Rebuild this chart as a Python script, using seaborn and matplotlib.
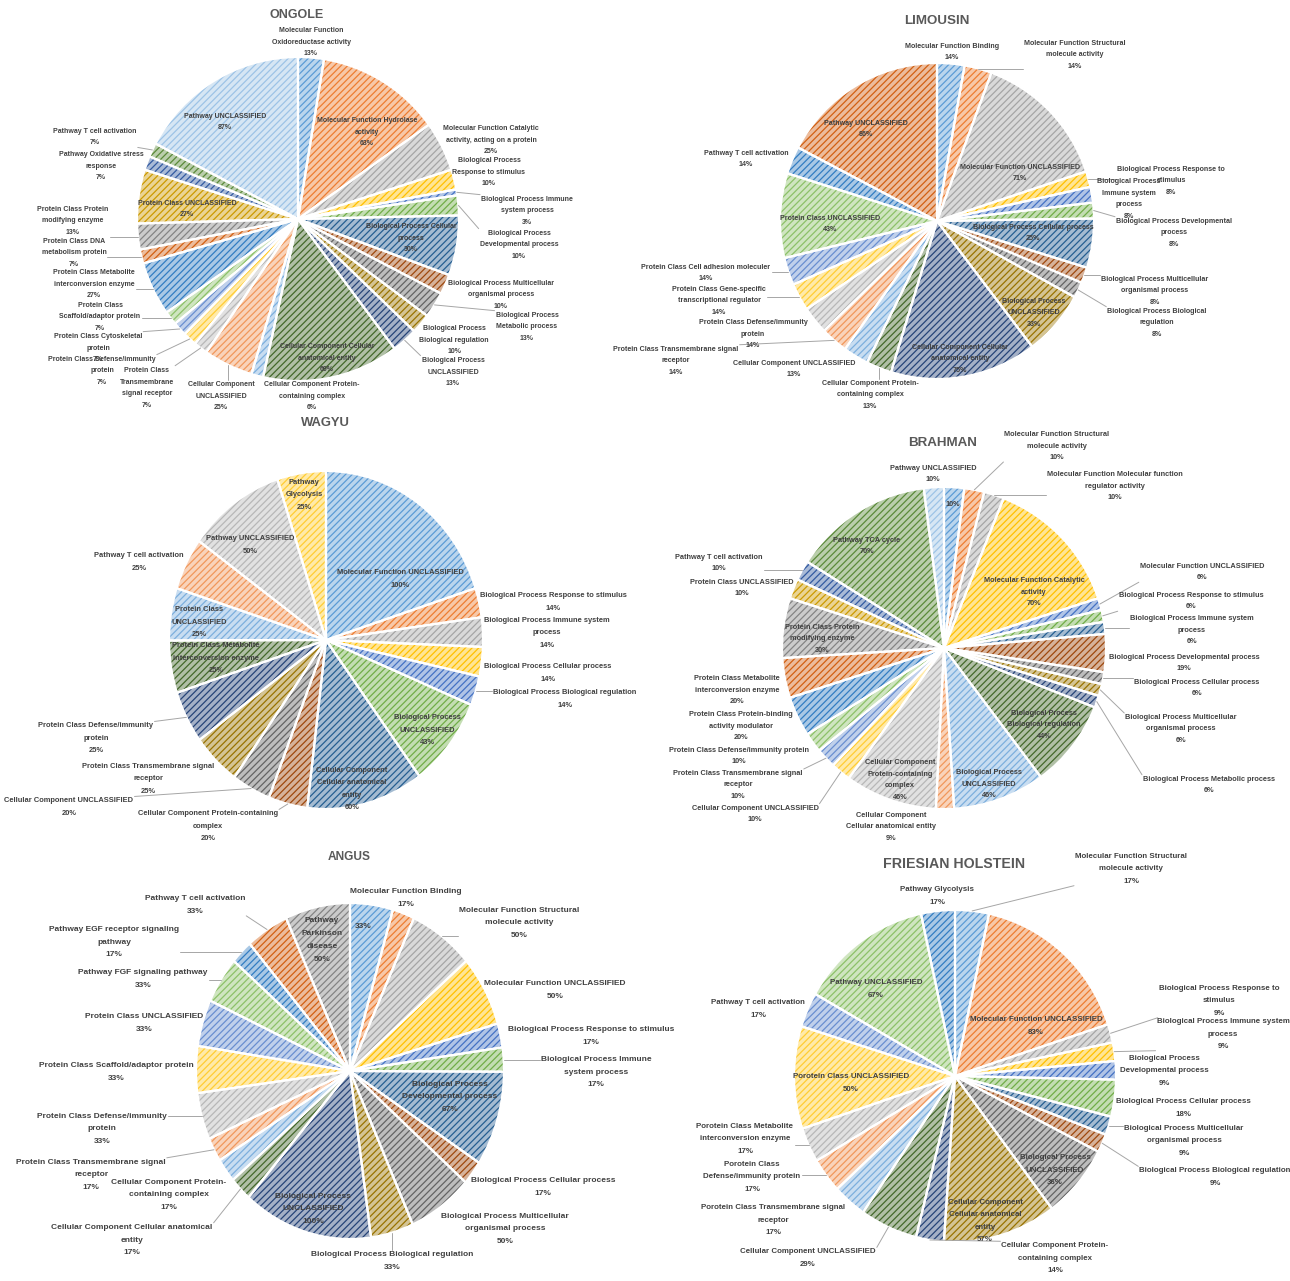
import colorsys

import matplotlib
matplotlib.use("Agg")
import matplotlib.pyplot as plt
import numpy as np
import pandas as pd
import seaborn as sns
from matplotlib.colors import to_rgb

# ---------------------------------------------------------------- data
ongole_names = [
    "Molecular Function\nOxidoreductase activity",
    "Molecular Function Hydrolase\nactivity",
    "Molecular Function Catalytic\nactivity, acting on a protein",
    "Biological Process\nResponse to stimulus",
    "Biological Process Immune\nsystem process",
    "Biological Process\nDevelopmental process",
    "Biological Process Cellular\nprocess",
    "Biological Process Multicellular\norganismal process",
    "Biological Process\nMetabolic process",
    "Biological Process\nBiological regulation",
    "Biological Process\nUNCLASSIFIED",
    "Cellular Component Cellular\nanatomical entity",
    "Cellular Component Protein-\ncontaining complex",
    "Cellular Component\nUNCLASSIFIED",
    "Protein Class\nTransmembrane\nsignal receptor",
    "Protein Class Defense/immunity\nprotein",
    "Protein Class Cytoskeletal\nprotein",
    "Protein Class\nScaffold/adaptor protein",
    "Protein Class Metabolite\ninterconversion enzyme",
    "Protein Class DNA\nmetabolism protein",
    "Protein Class Protein\nmodifying enzyme",
    "Protein Class UNCLASSIFIED",
    "Pathway Oxidative stress\nresponse",
    "Pathway T cell activation",
    "Pathway UNCLASSIFIED",
]
ongole_values = [13, 63, 25, 10, 3, 10, 30, 10, 13, 10, 13, 69, 6, 25,
                 7, 7, 7, 7, 27, 7, 13, 27, 7, 7, 87]

limousin_names = [
    "Molecular Function Binding",
    "Molecular Function Structural\nmolecule activity",
    "Molecular Function UNCLASSIFIED",
    "Biological Process Response to\nstimulus",
    "Biological Process\nImmune system\nprocess",
    "Biological Process Developmental\nprocess",
    "Biological Process Cellular process",
    "Biological Process Multicellular\norganismal process",
    "Biological Process Biological\nregulation",
    "Biological Process\nUNCLASSIFIED",
    "Cellular Component Cellular\nanatomical entity",
    "Cellular Component Protein-\ncontaining complex",
    "Cellular Component UNCLASSIFIED",
    "Protein Class Transmembrane signal\nreceptor",
    "Protein Class Defense/immunity\nprotein",
    "Protein Class Gene-specific\ntranscriptional regulator",
    "Protein Class Cell adhesion moleculer",
    "Protein Class UNCLASSIFIED",
    "Pathway T cell activation",
    "Pathway UNCLASSIFIED",
]
limousin_values = [14, 14, 71, 8, 8, 8, 25, 8, 8, 33, 75, 13, 13,
                   14, 14, 14, 14, 43, 14, 86]

wagyu_names = [
    "Molecular Function UNCLASSIFIED",
    "Biological Process Response to stimulus",
    "Biological Process Immune system\nprocess",
    "Biological Process Cellular process",
    "Biological Process Biological regulation",
    "Biological Process\nUNCLASSIFIED",
    "Cellular Component\nCellular anatomical\nentity",
    "Cellular Component Protein-containing\ncomplex",
    "Cellular Component UNCLASSIFIED",
    "Protein Class Transmembrane signal\nreceptor",
    "Protein Class Defense/immunity\nprotein",
    "Protein Class Metabolite\ninterconversion enzyme",
    "Protein Class\nUNCLASSIFIED",
    "Pathway T cell activation",
    "Pathway UNCLASSIFIED",
    "Pathway\nGlycolysis",
]
wagyu_values = [100, 14, 14, 14, 14, 43, 60, 20, 20, 25, 25, 25, 25, 25, 50, 25]

brahman_names = [
    "",
    "Molecular Function Structural\nmolecule activity",
    "Molecular Function Molecular function\nregulator activity",
    "Molecular Function Catalytic\nactivity",
    "Molecular Function UNCLASSIFIED",
    "Biological Process Response to stimulus",
    "Biological Process Immune system\nprocess",
    "Biological Process Developmental process",
    "Biological Process Cellular process",
    "Biological Process Multicellular\norganismal process",
    "Biological Process Metabolic process",
    "Biological Process\nBiological regulation",
    "Biological Process\nUNCLASSIFIED",
    "Cellular Component\nCellular anatomical entity",
    "Cellular Component\nProtein-containing\ncomplex",
    "Cellular Component UNCLASSIFIED",
    "Protein Class Transmembrane signal\nreceptor",
    "Protein Class Defense/immunity protein",
    "Protein Class Protein-binding\nactivity modulator",
    "Protein Class Metabolite\ninterconversion enzyme",
    "Protein Class Protein\nmodifying enzyme",
    "Protein Class UNCLASSIFIED",
    "Pathway T cell activation",
    "Pathway TCA cycle",
    "Pathway UNCLASSIFIED",
]
brahman_values = [10, 10, 10, 70, 6, 6, 6, 19, 6, 6, 6, 44, 46, 9, 46, 10,
                  10, 10, 20, 20, 30, 10, 10, 70, 10]

angus_names = [
    "",
    "Molecular Function Binding",
    "Molecular Function Structural\nmolecule activity",
    "Molecular Function UNCLASSIFIED",
    "Biological Process Response to stimulus",
    "Biological Process Immune\nsystem process",
    "Biological Process\nDevelopmental process",
    "Biological Process Cellular process",
    "Biological Process Multicellular\norganismal process",
    "Biological Process Biological regulation",
    "Biological Process\nUNCLASSIFIED",
    "Cellular Component Cellular anatomical\nentity",
    "Cellular Component Protein-\ncontaining complex",
    "Protein Class Transmembrane signal\nreceptor",
    "Protein Class Defense/immunity\nprotein",
    "Protein Class Scaffold/adaptor protein",
    "Protein Class UNCLASSIFIED",
    "Pathway FGF signaling pathway",
    "Pathway EGF receptor signaling\npathway",
    "Pathway T cell activation",
    "Pathway\nParkinson\ndisease",
]
angus_values = [33, 17, 50, 50, 17, 17, 67, 17, 50, 33, 100, 17, 17,
                17, 33, 33, 33, 33, 17, 33, 50]

friesian_names = [
    "Molecular Function Structural\nmolecule activity",
    "Molecular Function UNCLASSIFIED",
    "Biological Process Response to\nstimulus",
    "Biological Process Immune system\nprocess",
    "Biological Process\nDevelopmental process",
    "Biological Process Cellular process",
    "Biological Process Multicellular\norganismal process",
    "Biological Process Biological regulation",
    "Biological Process\nUNCLASSIFIED",
    "Cellular Component\nCellular anatomical\nentity",
    "Cellular Component Protein-\ncontaining complex",
    "Cellular Component UNCLASSIFIED",
    "Porotein Class Transmembrane signal\nreceptor",
    "Porotein Class\nDefense/immunity protein",
    "Porotein Class Metabolite\ninterconversion enzyme",
    "Porotein Class UNCLASSIFIED",
    "Pathway T cell activation",
    "Pathway UNCLASSIFIED",
    "Pathway Glycolysis",
]
friesian_values = [17, 83, 9, 9, 9, 18, 9, 9, 36, 57, 14, 29,
                   17, 17, 17, 50, 17, 67, 17]

# ------------------------------------------------ label placement (pixels)
ongole_label_xy = [(311, 42), (367, 132), (491, 140), (489, 172), (527, 211),
                   (519, 245), (411, 238), (501, 295), (527, 327), (454, 340),
                   (453, 372), (327, 358), (312, 396), (221, 396), (147, 388),
                   (102, 371), (98, 348), (100, 317), (94, 284), (74, 253),
                   (73, 221), (187, 209), (101, 166), (95, 137), (225, 122)]
limousin_label_xy = [(952, 52), (1075, 55), (1020, 173), (1171, 181), (1129, 199),
                     (1174, 233), (1033, 233), (1155, 291), (1157, 323), (1034, 313),
                     (960, 359), (870, 395), (794, 369), (676, 361), (753, 334),
                     (719, 301), (706, 273), (830, 224), (746, 159), (866, 129)]
wagyu_label_xy = [(400, 579), (553, 602), (547, 633), (548, 673), (565, 699),
                  (427, 730), (352, 789), (208, 826), (69, 807), (148, 779),
                  (96, 738), (216, 658), (199, 622), (139, 562), (250, 545),
                  (304, 495)]
brahman_label_xy = [(953, 505), (1057, 446), (1115, 486), (1034, 592), (1202, 572),
                    (1191, 601), (1192, 630), (1184, 663), (1197, 688), (1181, 729),
                    (1209, 785), (1044, 725), (989, 784), (891, 827), (900, 780),
                    (755, 814), (738, 785), (739, 756), (741, 726), (737, 690),
                    (822, 639), (742, 588), (719, 563), (867, 546), (933, 474)]
angus_label_xy = [(363, 927), (406, 898), (519, 923), (555, 990), (591, 1036),
                  (596, 1072), (450, 1097), (543, 1187), (505, 1229), (392, 1261),
                  (313, 1209), (132, 1240), (169, 1195), (91, 1175), (102, 1129),
                  (116, 1072), (144, 1023), (143, 979), (114, 942), (195, 905),
                  (322, 940)]
friesian_label_xy = [(1131, 869), (1036, 1026), (1219, 1001), (1223, 1034),
                     (1164, 1071), (1183, 1108), (1184, 1141), (1215, 1177),
                     (1055, 1170), (985, 1221), (1055, 1258), (808, 1258),
                     (773, 1220), (752, 1177), (745, 1139), (851, 1083),
                     (758, 1009), (876, 989), (937, 896)]

# ------------------------------------------------------------- styling
sns.set_theme(style="white")
plt.rcParams["font.family"] = ["Liberation Sans", "DejaVu Sans"]
plt.rcParams["hatch.linewidth"] = 0.9

W, H = 1290, 1281
TEXT_COLOR = "#404040"
TITLE_COLOR = "#595959"
LEADER_COLOR = "#a6a6a6"
BASE_TEXT_PT = 5.0


def tone(hex_color, lum_mod, lum_off=0.0):
    r, g, b = to_rgb(hex_color)
    h, l, s = colorsys.rgb_to_hls(r, g, b)
    return colorsys.hls_to_rgb(h, min(1.0, l * lum_mod + lum_off), s)


ACCENTS = ["#5B9BD5", "#ED7D31", "#A5A5A5", "#FFC000", "#4472C4", "#70AD47"]
SHADES = [(1.0, 0.0), (0.6, 0.0), (0.8, 0.2), (0.8, 0.0), (0.6, 0.4)]
series_palette = sns.color_palette([tone(c, m, o) for m, o in SHADES for c in ACCENTS])


def tint(c, amount=0.42):
    c = np.array(c)
    return tuple(c * amount + (1 - amount))


charts = [
    dict(title="ONGOLE", names=ongole_names, values=ongole_values, xy=ongole_label_xy,
         center=(298, 219), radii=(161, 162), title_xy=(297, 15), title_size=9.0,
         text_scale=1.0, pitch=10.0),
    dict(title="LIMOUSIN", names=limousin_names, values=limousin_values, xy=limousin_label_xy,
         center=(937, 221), radii=(157, 158), title_xy=(937, 21), title_size=9.6,
         text_scale=1.03, pitch=10.2),
    dict(title="WAGYU", names=wagyu_names, values=wagyu_values, xy=wagyu_label_xy,
         center=(326, 640), radii=(157, 169), title_xy=(325, 423), title_size=9.4,
         text_scale=1.08, pitch=11.0),
    dict(title="BRAHMAN", names=brahman_names, values=brahman_values, xy=brahman_label_xy,
         center=(944, 648), radii=(162, 161), title_xy=(943, 443), title_size=9.6,
         text_scale=1.07, pitch=10.3),
    dict(title="ANGUS", names=angus_names, values=angus_values, xy=angus_label_xy,
         center=(350, 1071), radii=(154, 168), title_xy=(349, 857), title_size=8.6,
         text_scale=1.2, pitch=13.0),
    dict(title="FRIESIAN HOLSTEIN", names=friesian_names, values=friesian_values,
         xy=friesian_label_xy, center=(955, 1076), radii=(161, 166),
         title_xy=(954, 864), title_size=10.2, text_scale=1.13, pitch=11.7),
]

fig = plt.figure(figsize=(W / 100, H / 100), dpi=100)
fig.patch.set_facecolor("white")

# draw the pies first, keep handles for the label pass
pie_axes = []
for ch in charts:
    (cx, cy), (rx, ry) = ch["center"], ch["radii"]
    ax = fig.add_axes([(cx - rx) / W, 1 - (cy + ry) / H, 2 * rx / W, 2 * ry / H])
    df = pd.DataFrame({"name": ch["names"], "value": ch["values"]})
    cols = [series_palette[i % len(series_palette)] for i in range(len(df))]
    wedges, _ = ax.pie(df["value"], colors=[tint(c) for c in cols], startangle=90,
                       counterclock=False, wedgeprops=dict(linewidth=0))
    for w, c in zip(wedges, cols):
        w.set_edgecolor(c)
        w.set_linewidth(0)
        w.set_hatch("/////")
    ax.pie(df["value"], startangle=90, counterclock=False,
           wedgeprops=dict(fill=False, edgecolor="white", linewidth=1.6))
    ax.set_aspect("auto")
    ax.set_xlim(-1, 1)
    ax.set_ylim(-1, 1)
    ax.axis("off")
    pie_axes.append((ax, wedges, df))

# overlay in image pixel coordinates for titles, labels and leader lines
ov = fig.add_axes([0, 0, 1, 1])
ov.set_xlim(0, W)
ov.set_ylim(H, 0)
ov.set_autoscale_on(False)
ov.axis("off")
renderer = fig.canvas.get_renderer()

for ch, (ax, wedges, df) in zip(charts, pie_axes):
    (cx, cy), (rx, ry) = ch["center"], ch["radii"]
    tx, ty = ch["title_xy"]
    ov.text(tx, ty, ch["title"], ha="center", va="center", fontsize=ch["title_size"],
            fontweight="bold", color=TITLE_COLOR)

    size = BASE_TEXT_PT * ch["text_scale"]
    ls = ch["pitch"] / (0.73 * size * 100 / 72)
    for (name, val), (lx, ly), w in zip(df[["name", "value"]].itertuples(index=False),
                                        ch["xy"], wedges):
        label = f"{name}\n{val}%" if name else f"{val}%"
        t = ov.text(lx, ly, label, ha="center", va="center", multialignment="center",
                    fontsize=size, linespacing=ls, color=TEXT_COLOR, fontweight="bold")
        if ((lx - cx) / rx) ** 2 + ((ly - cy) / ry) ** 2 < 1:
            continue
        ang = np.deg2rad((w.theta1 + w.theta2) / 2)
        dx, dy = ax.transData.transform((np.cos(ang), np.sin(ang)))
        ex, ey = dx, H - dy
        bb = t.get_window_extent(renderer)
        x0, x1 = bb.x0 - 1, bb.x1 + 1
        y0, y1 = H - bb.y1 - 1, H - bb.y0 + 1
        nx = min(max(ex, x0), x1)
        ny = min(max(ey, y0), y1)
        if np.hypot(nx - ex, ny - ey) > 9:
            ov.plot([ex, nx], [ey, ny], color=LEADER_COLOR, lw=0.7, zorder=1)

fig.savefig("out.png", dpi=100, facecolor="white")
